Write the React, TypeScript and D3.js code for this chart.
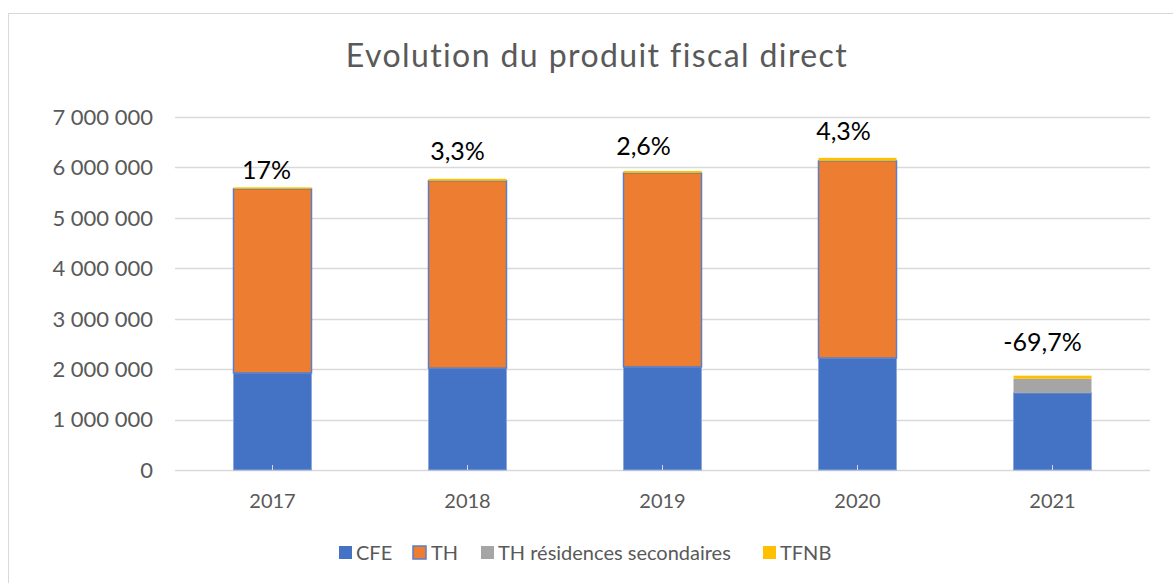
import React from "react";
import * as d3 from "d3";

const years = ["2017", "2018", "2019", "2020", "2021"];
const cfe = [1925000, 2020000, 2045000, 2220000, 1530000];
const th = [3650000, 3714000, 3845000, 3910000, 0];
const thrs = [0, 0, 0, 0, 280000];
const tfnb = [30000, 40000, 40000, 60000, 60000];
const changeLabels = ["17%", "3,3%", "2,6%", "4,3%", "-69,7%"];
const yTicks = [0, 1000000, 2000000, 3000000, 4000000, 5000000, 6000000, 7000000];
const seriesNames = ["CFE", "TH", "TH résidences secondaires", "TFNB"];

// annotation offsets (px) of the manually placed % labels
const labelDx = [-6, -10, -19, -14, -10];
const labelGap = [8, 19, 16, 18, 25];

const colors = ["#4472C4", "#ED7D31", "#A5A5A5", "#FFC000"];
const strokes = ["#8EA9DB", "#5B7FC7", "none", "none"];

const W = 1173;
const H = 583;
const FONT = "Lato, 'Open Sans', sans-serif";

export default function App() {
  const rows = years.map((yr, i) => ({
    year: yr,
    [seriesNames[0]]: cfe[i],
    [seriesNames[1]]: th[i],
    [seriesNames[2]]: thrs[i],
    [seriesNames[3]]: tfnb[i],
  }));
  const stack = d3.stack<any>().keys(seriesNames)(rows);

  const x = d3.scaleBand().domain(years).range([175, 1150]).paddingInner(0.6).paddingOuter(0.3);
  const y = d3.scaleLinear().domain([0, 7000000]).range([470, 117]);
  const fmt = (v: number) => d3.format(",")(v).replace(/,/g, " ");

  const totals = years.map((_, i) => cfe[i] + th[i] + thrs[i] + tfnb[i]);

  const legendItems = [
    { x: 339, tx: 356 },
    { x: 413, tx: 431 },
    { x: 481, tx: 498 },
    { x: 763, tx: 780 },
  ];

  return (
    <svg width={W} height={H} style={{ position: "absolute", left: 0, top: 0, background: "#fff" }}>
      <rect x={8.5} y={13.5} width={W} height={H} fill="#fff" stroke="#D9D9D9" />
      <text x={597} y={67} textAnchor="middle" fontFamily={FONT} fontSize={32} letterSpacing={1.4} fill="#595959">
        Evolution du produit fiscal direct
      </text>
      {yTicks.map((t) => (
        <g key={t}>
          <line x1={175} x2={1150} y1={Math.round(y(t)) + 0.5} y2={Math.round(y(t)) + 0.5} stroke="#D9D9D9" strokeWidth={1.3} />
          <text x={153} y={y(t)} dy="0.36em" textAnchor="end" fontFamily={FONT} fontSize={22} fill="#595959">
            {fmt(t)}
          </text>
        </g>
      ))}
      {stack.map((s, si) => (
        <g key={s.key}>
          {s.map((d, i) =>
            d[1] - d[0] > 0 ? (
              <rect
                key={i}
                x={x(years[i])!}
                y={y(d[1])}
                width={x.bandwidth()}
                height={y(d[0]) - y(d[1])}
                fill={colors[si]}
                stroke={strokes[si]}
                strokeWidth={si === 1 ? 1.5 : 1}
              />
            ) : null
          )}
        </g>
      ))}
      {years.map((yr) => (
        <line
          key={yr}
          x1={x(yr)! + x.bandwidth() / 2}
          x2={x(yr)! + x.bandwidth() / 2}
          y1={470}
          y2={465}
          stroke="#D9D9D9"
        />
      ))}
      {years.map((yr) => (
        <text key={yr} x={x(yr)! + x.bandwidth() / 2} y={508} textAnchor="middle" fontFamily={FONT} fontSize={20} fill="#595959">
          {yr}
        </text>
      ))}
      {years.map((yr, i) => (
        <text
          key={yr}
          x={x(yr)! + x.bandwidth() / 2 + labelDx[i]}
          y={y(totals[i]) - labelGap[i]}
          textAnchor="middle"
          fontFamily={FONT}
          fontSize={25}
          fill="#000"
        >
          {changeLabels[i]}
        </text>
      ))}
      {seriesNames.map((n, i) => (
        <g key={n}>
          <rect
            x={legendItems[i].x}
            y={546}
            width={13}
            height={13}
            fill={colors[i]}
            stroke={i === 1 ? "#5B7FC7" : "none"}
            strokeWidth={1.5}
          />
          <text x={legendItems[i].tx} y={560} fontFamily={FONT} fontSize={20} fill="#595959">
            {n}
          </text>
        </g>
      ))}
    </svg>
  );
}
